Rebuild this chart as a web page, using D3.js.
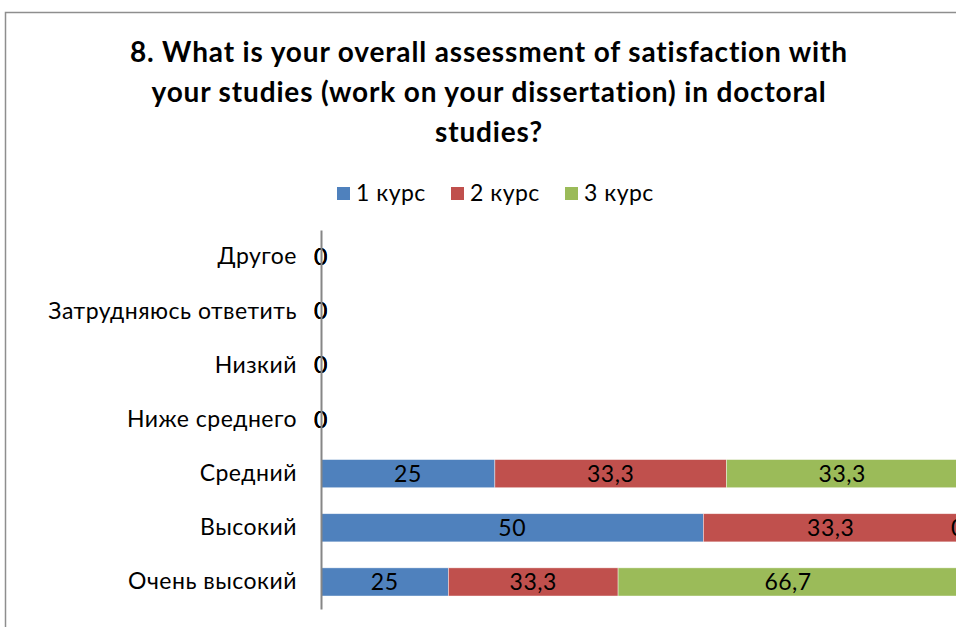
<!DOCTYPE html>
<html>
<head>
<meta charset="utf-8">
<script src="https://cdn.jsdelivr.net/npm/d3@7"></script>
<style>
  html, body { margin: 0; padding: 0; background: #fff; overflow: hidden; }
  svg { display: block; font-family: Lato, "Open Sans", sans-serif; }
</style>
</head>
<body>
<svg id="chart" width="956" height="627"></svg>
<script>
// Answer options (top to bottom) and shares per year of study
const categories = ["Другое", "Затрудняюсь ответить", "Низкий", "Ниже среднего", "Средний", "Высокий", "Очень высокий"];
const seriesNames = ["1 курс", "2 курс", "3 курс"];
const course1 = [0, 0, 0, 0, 25, 50, 25];
const course2 = [0, 0, 0, 0, 33.3, 33.3, 33.3];
const course3 = [0, 0, 0, 0, 33.3, 0, 66.7];
const colors = ["#4F81BD", "#C0504D", "#9BBB59"];
const titleLines = [
  "8. What is your overall assessment of satisfaction with",
  "your studies (work on your dissertation) in doctoral",
  "studies?"
];

const rows = categories.map((c, i) => ({
  category: c,
  "1 курс": course1[i],
  "2 курс": course2[i],
  "3 курс": course3[i]
}));

const svg = d3.select("#chart");
const labelFont = 23, labelSpacing = 0.5;

// Chart frame
svg.append("rect")
  .attr("x", 5.5).attr("y", 12.5)
  .attr("width", 1000).attr("height", 700)
  .attr("fill", "#fff").attr("stroke", "#8e8e8e").attr("stroke-width", 1.5);

// Title
svg.append("g").selectAll("text").data(titleLines).join("text")
  .attr("x", 489).attr("y", (d, i) => 62 + i * 40)
  .attr("text-anchor", "middle")
  .attr("font-size", 28).attr("font-weight", "bold").attr("fill", "#000")
  .attr("letter-spacing", 0.85)
  .text(d => d);

// Legend
const legendX = [337, 451, 565];
const legend = svg.append("g").selectAll("g").data(seriesNames).join("g")
  .attr("transform", (d, i) => `translate(${legendX[i]},193)`);
legend.append("rect")
  .attr("x", 0).attr("y", -6).attr("width", 13).attr("height", 13)
  .attr("fill", (d, i) => colors[i]);
legend.append("text")
  .attr("x", 19).attr("y", 0).attr("dy", "0.35em")
  .attr("font-size", labelFont).attr("letter-spacing", labelSpacing).attr("fill", "#000")
  .text(d => d);

// Plot area (100% stacked horizontal bars)
const plotLeft = 321, plotRight = 958, plotTop = 230, plotBottom = 609;
const x = d3.scaleLinear().domain([0, 1]).range([plotLeft, plotRight]);
const y = d3.scaleBand().domain(categories).range([plotTop, plotBottom]).paddingInner(0.48).paddingOuter(0.24);

const stack = d3.stack().keys(seriesNames).offset(d3.stackOffsetExpand);
const stacked = stack(rows);

const layers = svg.append("g").selectAll("g").data(stacked).join("g")
  .attr("fill", (d, i) => colors[i]);

layers.selectAll("rect").data(d => d).join("rect")
  .attr("x", d => x(d[0]))
  .attr("y", d => y(d.data.category))
  .attr("width", d => Math.max(0, x(d[1]) - x(d[0])))
  .attr("height", y.bandwidth())
  .attr("stroke", "rgba(255,255,255,0.6)").attr("stroke-width", 0.7);

// Value labels centred in each segment
const fmt = v => String(v).replace(".", ",");
stacked.forEach((layer) => {
  svg.append("g").selectAll("text").data(layer).join("text")
    .attr("x", d => (x(d[0]) + x(d[1])) / 2)
    .attr("y", d => y(d.data.category) + y.bandwidth() / 2)
    .attr("dy", "0.35em")
    .attr("text-anchor", "middle")
    .attr("font-size", labelFont).attr("letter-spacing", labelSpacing).attr("fill", "#000")
    .text(d => fmt(d.data[layer.key]));
});

// Category axis
const yAxis = d3.axisLeft(y).tickSize(0).tickPadding(24);
const ag = svg.append("g").attr("transform", `translate(${plotLeft},0)`).call(yAxis);
ag.select(".domain").attr("stroke", "#868686").attr("stroke-width", 2);
ag.selectAll("text").attr("font-size", labelFont).attr("letter-spacing", labelSpacing)
  .attr("fill", "#000")
  .attr("font-family", "Lato, 'Open Sans', sans-serif");
</script>
</body>
</html>
